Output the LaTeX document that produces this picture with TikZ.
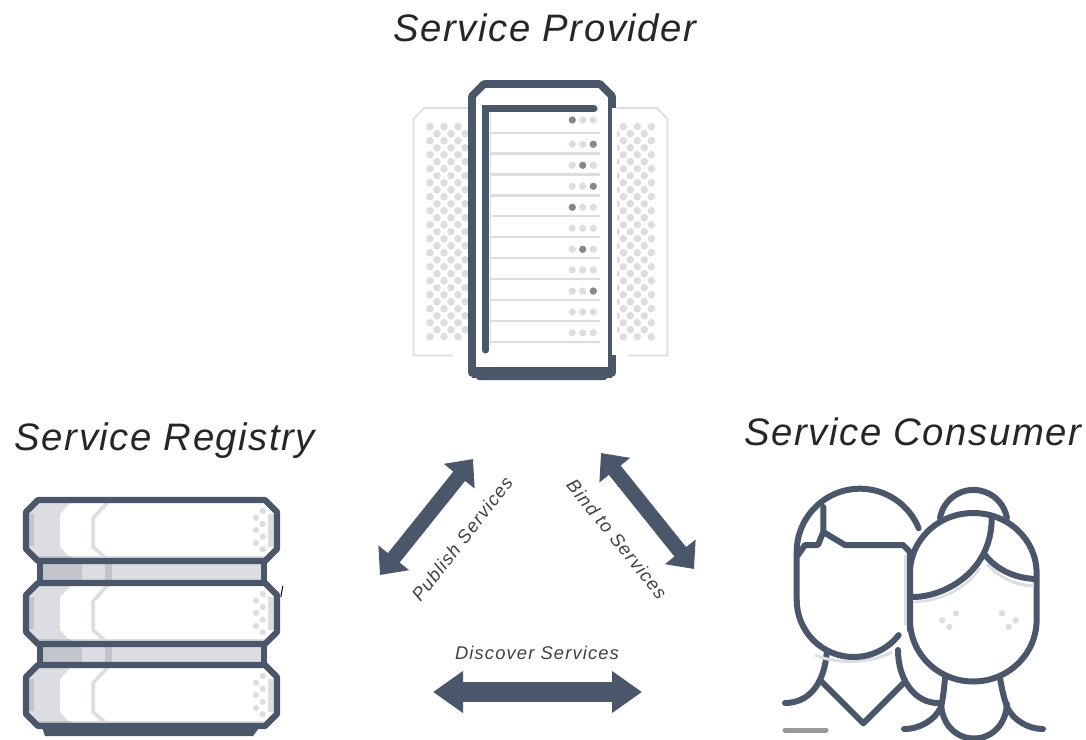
\documentclass[tikz,border=0pt]{standalone}
\usepackage{fontspec}
\usepackage{tikz}
\usetikzlibrary{arrows.meta}
\newfontfamily\titlefont[LetterSpace=4]{Liberation Sans}
\newfontfamily\smallfont[LetterSpace=6]{Liberation Sans}
\definecolor{slate}{HTML}{4A576A}
\definecolor{pale}{HTML}{DCDDE2}
\definecolor{darkband}{HTML}{C2C4CB}
\definecolor{dotdark}{HTML}{85878D}
\tikzstyle{title} = [font=\titlefont\itshape\fontsize{38.3}{44}\selectfont, text=black!85]
\tikzstyle{small} = [font=\smallfont\itshape\fontsize{18.4}{22}\selectfont, text=black!75]
\tikzstyle{icon} = [draw=slate, line width=6.2pt, line join=round]
\tikzstyle{person} = [draw=slate, line width=6pt, line cap=round, line join=round]
\tikzstyle{slimarrow} = [draw=slate, line width=15pt, {Triangle[length=22pt,width=38pt]}-{Triangle[length=22pt,width=38pt]}]
\tikzstyle{fatarrow} = [draw=slate, line width=20pt, {Triangle[length=30pt,width=40pt]}-{Triangle[length=30pt,width=40pt]}]

\begin{document}
\begin{tikzpicture}[x=1pt, y=1pt, yscale=-1]
    \useasboundingbox (0,0) rectangle (1086,739);

    %labels
    \node (provider) [title] at (545,28) {Service Provider};
    \node (registry) [title] at (165,441) {Service Registry};
    \node (consumer) [title] at (913,432) {Service Consumer};
    \node (publish) [small, rotate=52] at (462,539) {Publish Services};
    \node (bind) [small, rotate=-51] at (617,539) {Bind to Services};
    \node (discover) [small] at (537,653) {Discover Services};

    %server side panels
    \draw [pale, line width=1.6pt] (453,355.5) -- (413.5,355.5) -- (413.5,119) -- (424,108) -- (475,108);
    \draw [pale, line width=1.6pt] (610,108) -- (657,108) -- (667.5,119) -- (667.5,355.5) -- (628,355.5);
    \foreach \x in {430,444,458,623.3,637.3,651.3}
        \foreach \k in {0,...,15}
            \fill [pale] (\x,126.7+14*\k) circle (3.8pt);
    \foreach \x in {437,451,465,616.3,630.3,644.3}
        \foreach \k in {0,...,14}
            \fill [pale] (\x,133.7+14*\k) circle (3.8pt);

    %server body
    \fill [slate] (480,367) -- (604,367) -- (612,373) -- (605,380) -- (478,380) -- (471,373) -- cycle;
    \draw [icon, line width=7.6pt, fill=white] (484,84) -- (600,84) -- (612,96) -- (612,373) -- (472,373) -- (472,96) -- cycle;
    \fill [white] (612,108) rectangle (617,355);
    \fill [slate] (472,367) rectangle (612,378);
    \foreach \y in {132.7,153.3,174.3,195.3,216,237,258,279,300,320.7,341.7}
        \draw [pale, line width=2.4pt] (490,\y) -- (600,\y);
    \foreach \y in {120,144.3,165.3,186.3,207.3,228.3,249.3,270,291,312,332.7}
        \foreach \x in {572.3,582.7,593.3}
            \fill [pale] (\x,\y) circle (3.6pt);
    \foreach \x/\y in {572.3/120,593.3/144.3,582.7/165.3,593.3/186.3,572.3/207.3,582.7/249.3,593.3/291}
        \fill [dotdark] (\x,\y) circle (3.6pt);
    \draw [pale, line width=1.5pt] (490.5,113) -- (490.5,345);
    \draw [slate, line width=7pt, line cap=round, line join=miter] (594,108.5) -- (485.5,108.5) -- (485.5,350);

    %registry
    \fill [slate] (41,724) -- (262,724) -- (253,736) -- (45,736) -- cycle;
    \foreach \y in {561,643} {
        \draw [icon, fill=pale] (40,\y) rectangle (264,\y+22);
        \fill [darkband] (43.1,\y+3.1) rectangle (82,\y+18.9);
        \fill [darkband] (105,\y+3.1) rectangle (112,\y+18.9);
    }
    \foreach \y in {500,583,665} {
        \fill [white] (38,\y) -- (265,\y) -- (277,\y+12) -- (277,\y+49) -- (265,\y+61) -- (38,\y+61) -- (26,\y+49) -- (26,\y+12) -- cycle;
        \fill [pale] (38,\y) -- (73,\y) -- (60,\y+14) -- (60,\y+47) -- (73,\y+61) -- (38,\y+61) -- (26,\y+49) -- (26,\y+12) -- cycle;
        \fill [pale] (38,\y+56) rectangle (265,\y+61);
        \fill [darkband] (38,\y+56) -- (70,\y+56) -- (75,\y+61) -- (38,\y+61) -- cycle;
        \fill [darkband] (28,\y+14) rectangle (34,\y+46);
        \fill [pale] (268,\y+14) rectangle (275,\y+47);
        \draw [pale, line width=3.5pt] (108,\y+2) -- (93,\y+18) -- (93,\y+47) -- (108,\y+60);
        \foreach \dy/\dx in {11/262.7,17.7/256,24/262.7,30/256,36.7/262.7,43/256,49.3/262.7}
            \fill [pale] (\dx,\y+\dy) circle (3.1pt);
        \draw [icon] (38,\y) -- (265,\y) -- (277,\y+12) -- (277,\y+49) -- (265,\y+61) -- (38,\y+61) -- (26,\y+49) -- (26,\y+12) -- cycle;
    }
    \draw [black, line width=1pt] (282.8,586) -- (280.8,597);

    %man
    \draw [person] (826.7,653) .. controls (824,685) and (808,703) .. (785,703);
    \draw [person] (898,650) .. controls (898,680) and (915,703) .. (938,703);
    \draw [person] (821.7,681.7) -- (863.3,723.3) -- (903.3,683.3);
    \draw [pale, line width=4pt] (906,555) -- (906,625);
    \draw [pale, line width=3pt] (815,655) .. controls (835,664) and (870,664) .. (892,652);
    \draw [person] (796.7,600) -- (796.7,552) arc[start angle=180, end angle=338, radius=63.3pt];
    \draw [person] (796.7,600) arc[start angle=180, end angle=38, radius=57pt];
    \draw [person] (823.3,507) -- (823.3,532) -- (845,545) -- (903,545) -- (910,552) -- (910,630);
    \draw [person] (823.3,532) -- (818,545) -- (805,545) -- (798,555);
    \draw [line width=5pt, draw=black!40, line cap=round] (785,730) -- (826,730);

    %woman
    \draw [person] (945,678) .. controls (944,690) and (943,698) .. (941,707) .. controls (935,720) and (920,729) .. (904,729);
    \draw [person] (1000,678) .. controls (1002,690) and (1004,698) .. (1007,707) .. controls (1013,720) and (1028,729) .. (1043,729);
    \draw [person] (941,704) .. controls (944,750) and (1004,750) .. (1007,704);
    \draw [person] (940,518) arc[start angle=190, end angle=350, radius=34pt];
    \draw [person, fill=white] (910,620) -- (910,573) arc[start angle=180, end angle=360, x radius=63.3pt, y radius=60pt] -- (1036.6,620) arc[start angle=0, end angle=180, x radius=63.3pt, y radius=61.5pt] -- cycle;
    \draw [pale, line width=3pt] (987,564) .. controls (1000,578) and (1015,585) .. (1034,586);
    \draw [pale, line width=2.5pt] (914,602) .. controls (940,601) and (965,590) .. (980,568);
    \draw [person] (991.7,518) .. controls (991.7,573) and (943,597) .. (913,597);
    \draw [person] (985,555) .. controls (997,570) and (1015,578) .. (1035,579);
    \foreach \x/\y in {942.3/620.3,956/613.3,949.3/627,1002/613.3,1015.7/620.3,1008.7/627}
        \fill [pale] (\x,\y) circle (3.2pt);

    %arrows
    \coordinate (pub_top) at (473,459);
    \coordinate (pub_low) at (380,575);
    \coordinate (bind_top) at (601,453);
    \coordinate (bind_low) at (694,569);
    \coordinate (disc_left) at (433,692);
    \coordinate (disc_right) at (642,692);
    \draw [slimarrow] (pub_low) -- (pub_top);
    \draw [slimarrow] (bind_top) -- (bind_low);
    \draw [fatarrow] (disc_left) -- (disc_right);
\end{tikzpicture}
\end{document}
